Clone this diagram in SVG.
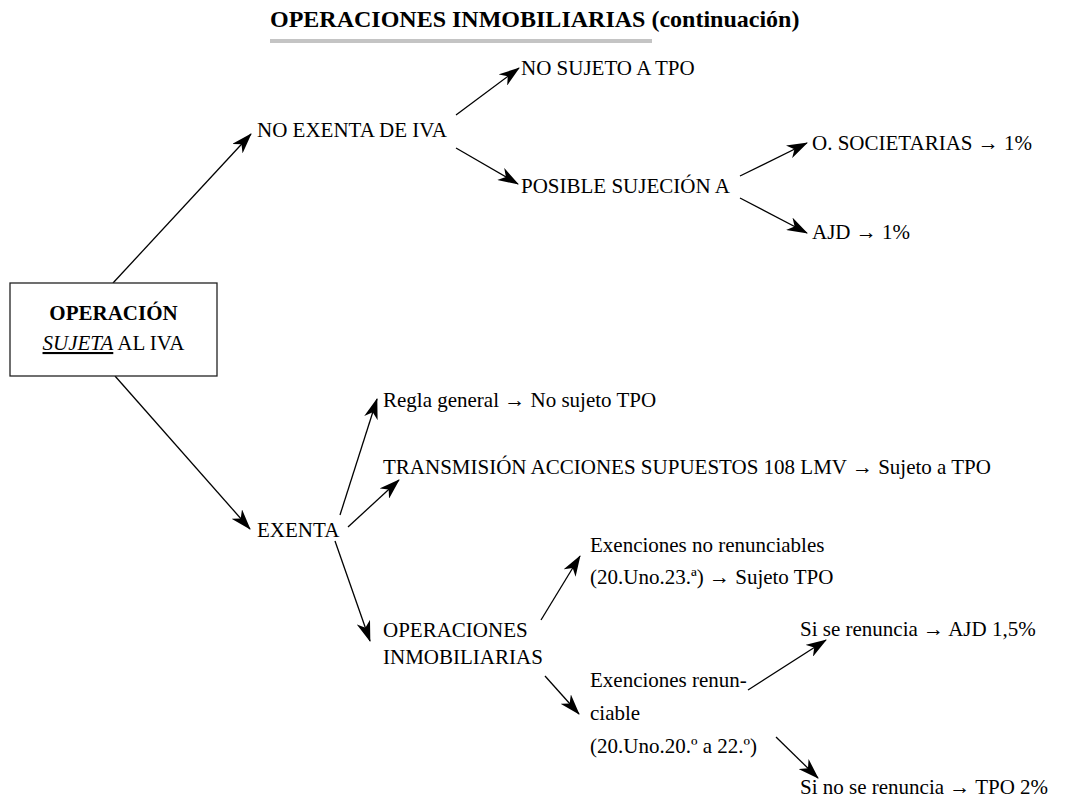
<svg xmlns="http://www.w3.org/2000/svg" width="1066" height="805" viewBox="0 0 1066 805">
<style>
text{font-family:"Liberation Serif","Times New Roman",serif;font-size:21px;fill:#000}
.title{font-weight:bold;font-size:24px}
.b{font-weight:bold}
.ar{font-family:"Liberation Sans",Arial,sans-serif;font-size:21px}
.edge{stroke:#000;stroke-width:1.3;fill:none;marker-end:url(#ah)}
</style>
<defs>
<marker id="ah" markerUnits="userSpaceOnUse" markerWidth="22" markerHeight="14" refX="20" refY="7" orient="auto" viewBox="0 0 22 14">
<path d="M0,0 L21,7 L0,14 L6,7 z" fill="#000"/>
</marker>
</defs>
<rect width="1066" height="805" fill="#fff"/>
<g id="title">
<text class="title" x="270" y="27">OPERACIONES INMOBILIARIAS (continuación)</text>
<rect x="270" y="39" width="382" height="4" fill="#c4c4c4"/>
</g>
<g id="connectors">
<line class="edge" x1="113" y1="283" x2="251" y2="134"/>
<line class="edge" x1="456" y1="115" x2="519" y2="68"/>
<line class="edge" x1="456" y1="148" x2="518" y2="184"/>
<line class="edge" x1="740" y1="176" x2="807" y2="143"/>
<line class="edge" x1="740" y1="198" x2="807" y2="233"/>
<line class="edge" x1="115" y1="376" x2="250" y2="529"/>
<line class="edge" x1="340" y1="515" x2="377" y2="399"/>
<line class="edge" x1="348" y1="527" x2="399" y2="480"/>
<line class="edge" x1="335" y1="541" x2="370" y2="641"/>
<line class="edge" x1="541" y1="620" x2="580" y2="556"/>
<line class="edge" x1="545" y1="676" x2="579" y2="714"/>
<line class="edge" x1="748" y1="690" x2="826" y2="640"/>
<line class="edge" x1="776" y1="737" x2="818" y2="778"/>
</g>
<g id="n-operacion">
<rect x="10" y="283" width="207" height="93" fill="#fff" stroke="#222" stroke-width="1.3"/>
<text class="b" x="113.5" y="320" text-anchor="middle">OPERACIÓN</text>
<text x="113.5" y="350" text-anchor="middle"><tspan font-style="italic" text-decoration="underline">SUJETA</tspan> AL IVA</text>
</g>
<g id="n-noexenta"><text x="257" y="137">NO EXENTA DE IVA</text></g>
<g id="n-nosujeto"><text x="521" y="75">NO SUJETO A TPO</text></g>
<g id="n-posible"><text x="521" y="193">POSIBLE SUJECIÓN A</text></g>
<g id="n-osoc"><text x="812" y="150">O. SOCIETARIAS <tspan class="ar">→</tspan> 1%</text></g>
<g id="n-ajd"><text x="812" y="239">AJD <tspan class="ar">→</tspan> 1%</text></g>
<g id="n-exenta"><text x="257" y="537">EXENTA</text></g>
<g id="n-regla"><text x="383" y="407">Regla general <tspan class="ar">→</tspan> No sujeto TPO</text></g>
<g id="n-trans"><text x="383" y="474">TRANSMISIÓN ACCIONES SUPUESTOS 108 LMV <tspan class="ar">→</tspan> Sujeto a TPO</text></g>
<g id="n-opinm"><text x="383" y="637">OPERACIONES</text><text x="383" y="664">INMOBILIARIAS</text></g>
<g id="n-noren"><text x="590" y="552">Exenciones no renunciables</text><text x="590" y="584">(20.Uno.23.ª) <tspan class="ar">→</tspan> Sujeto TPO</text></g>
<g id="n-ren"><text x="590" y="687">Exenciones renun-</text><text x="590" y="720">ciable</text><text x="590" y="753">(20.Uno.20.º a 22.º)</text></g>
<g id="n-sisi"><text x="800" y="636">Si se renuncia <tspan class="ar">→</tspan> AJD 1,5%</text></g>
<g id="n-sino"><text x="800" y="794">Si no se renuncia <tspan class="ar">→</tspan> TPO 2%</text></g>
</svg>
